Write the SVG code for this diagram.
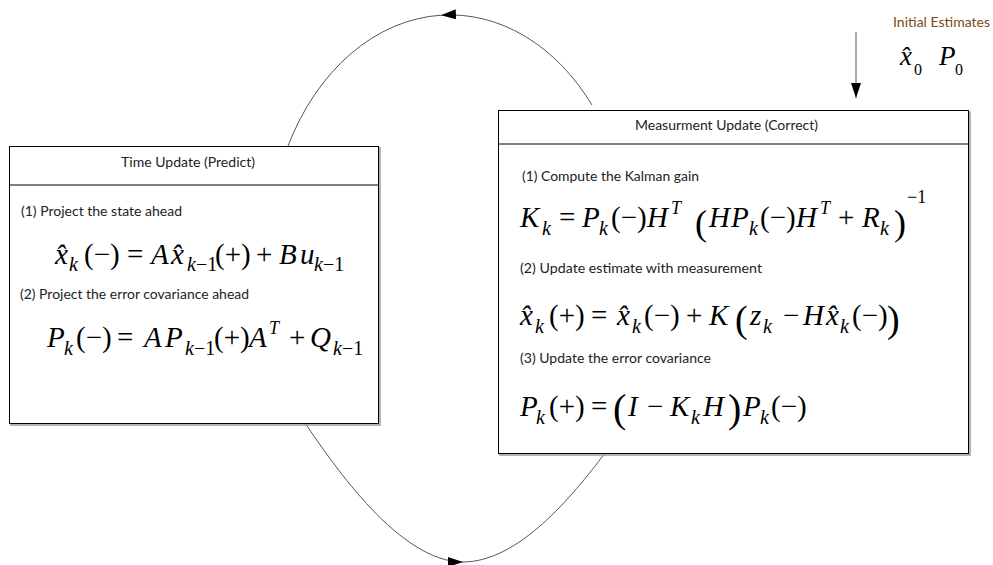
<svg xmlns="http://www.w3.org/2000/svg" width="993" height="565" viewBox="0 0 993 565">
<style>
  .box{fill:#fff;stroke:#000;stroke-width:1}
  .shadow{fill:none;stroke:#9a9a9a;stroke-width:1.5}
  .div{stroke:#000;stroke-width:1}
  .lbl{font-family:Lato,"Liberation Sans",sans-serif;font-size:13px;fill:#222}
  .init{font-family:Lato,"Liberation Sans",sans-serif;font-size:13px;fill:#7b4a12}
  .m{font-family:"Liberation Serif","Times New Roman",serif;font-style:italic;font-size:29px;fill:#000}
  .r{font-style:normal}
  .s{font-size:20px}
  .sup{font-size:18px}
  .conn{fill:none;stroke:#555;stroke-width:1}
</style>
<defs>
  <marker id="ah" markerUnits="userSpaceOnUse" markerWidth="16" markerHeight="10" refX="15" refY="5" orient="auto">
    <path d="M0,0 L15,5 L0,10 z" fill="#000"/>
  </marker>
</defs>

<g id="connectors">
  <path class="conn" d="M592,105 A181.6,239 0 0 0 441,15.2" marker-end="url(#ah)"/>
  <path class="conn" d="M441,15.2 A181.6,239 0 0 0 288,146"/>
  <path class="conn" d="M305,423 C335,467 400,562 463,562" marker-end="url(#ah)"/>
  <path class="conn" d="M463,562 C518,562 572,497 605,453"/>
  <line class="conn" x1="856" y1="32" x2="856" y2="98" stroke="#000" marker-end="url(#ah)"/>
</g>

<g id="initial-estimates">
  <text class="init" x="893" y="27" textLength="97" lengthAdjust="spacingAndGlyphs">Initial Estimates</text>
  <text class="m" style="font-size:27px"><tspan x="900" y="65">x̂</tspan><tspan class="r" style="font-size:16px" x="914" y="75">0</tspan><tspan x="939" y="65">P</tspan><tspan class="r" style="font-size:16px" x="955" y="75">0</tspan></text>
</g>

<g id="time-update">
  <rect class="shadow" x="11" y="148" width="369" height="277"/>
  <rect class="box" x="9.5" y="146.5" width="369" height="277"/>
  <line class="div" x1="9.5" y1="185" x2="378.5" y2="185"/>
  <text class="lbl" x="121" y="167" textLength="134" lengthAdjust="spacingAndGlyphs">Time Update (Predict)</text>
  <text class="lbl" x="21" y="216" textLength="161" lengthAdjust="spacingAndGlyphs">(1) Project the state ahead</text>
  <text class="m"><tspan x="55" y="264">x̂</tspan><tspan class="s" x="69" y="271">k</tspan><tspan class="r" x="84" y="264">(−)</tspan><tspan class="r" x="127" y="264">=</tspan><tspan x="151" y="264">A</tspan><tspan x="171" y="264">x̂</tspan><tspan class="s" x="187" y="271">k<tspan class="r">−1</tspan></tspan><tspan class="r" x="215" y="264">(+)</tspan><tspan class="r" x="256" y="264">+</tspan><tspan x="279" y="264">B</tspan><tspan x="300" y="264">u</tspan><tspan class="s" x="314" y="271">k<tspan class="r">−1</tspan></tspan></text>
  <text class="lbl" x="20" y="299" textLength="229" lengthAdjust="spacingAndGlyphs">(2) Project the error covariance ahead</text>
  <text class="m"><tspan x="47" y="347">P</tspan><tspan class="s" x="64" y="355">k</tspan><tspan class="r" x="76" y="347">(−)</tspan><tspan class="r" x="117" y="347">=</tspan><tspan x="144" y="347">A</tspan><tspan x="165" y="347">P</tspan><tspan class="s" x="185" y="355">k<tspan class="r">−1</tspan></tspan><tspan class="r" x="214" y="347">(+)</tspan><tspan x="249" y="347">A</tspan><tspan class="sup" x="269" y="334">T</tspan><tspan class="r" x="289" y="347">+</tspan><tspan x="310" y="347">Q</tspan><tspan class="s" x="333" y="355">k<tspan class="r">−1</tspan></tspan></text>
</g>

<g id="measurement-update">
  <rect class="shadow" x="500" y="112" width="470" height="343"/>
  <rect class="box" x="498.5" y="110.5" width="470" height="343"/>
  <line class="div" x1="498.5" y1="144" x2="968.5" y2="144"/>
  <text class="lbl" x="635" y="130" textLength="183" lengthAdjust="spacingAndGlyphs">Measurment Update (Correct)</text>
  <text class="lbl" x="522" y="181" textLength="177" lengthAdjust="spacingAndGlyphs">(1) Compute the Kalman gain</text>
  <text class="m"><tspan x="520" y="227">K</tspan><tspan class="s" x="542" y="235">k</tspan><tspan class="r" x="559" y="227">=</tspan><tspan x="582" y="227">P</tspan><tspan class="s" x="599" y="235">k</tspan><tspan class="r" x="611" y="227">(−)</tspan><tspan x="647" y="227">H</tspan><tspan class="sup" x="671" y="214">T</tspan><tspan class="r" style="font-size:36px" x="695" y="235">(</tspan><tspan x="709" y="227">H</tspan><tspan x="731" y="227">P</tspan><tspan class="s" x="749" y="235">k</tspan><tspan class="r" x="760" y="227">(−)</tspan><tspan x="796" y="227">H</tspan><tspan class="sup" x="820" y="214">T</tspan><tspan class="r" x="838" y="227">+</tspan><tspan x="862" y="227">R</tspan><tspan class="s" x="880" y="235">k</tspan><tspan class="r" style="font-size:36px" x="894" y="235">)</tspan><tspan class="r" style="font-size:18px" x="907" y="203">−1</tspan></text>
  <text class="lbl" x="520" y="273" textLength="242" lengthAdjust="spacingAndGlyphs">(2) Update estimate with measurement</text>
  <text class="m"><tspan x="520" y="325">x̂</tspan><tspan class="s" x="535" y="333">k</tspan><tspan class="r" x="549" y="325">(+)</tspan><tspan class="r" x="591" y="325">=</tspan><tspan x="617" y="325">x̂</tspan><tspan class="s" x="632" y="333">k</tspan><tspan class="r" x="644" y="325">(−)</tspan><tspan class="r" x="686" y="325">+</tspan><tspan x="709" y="325">K</tspan><tspan class="r" style="font-size:38px" x="735" y="332">(</tspan><tspan x="750" y="325">z</tspan><tspan class="s" x="763" y="333">k</tspan><tspan class="r" x="783" y="325">−</tspan><tspan x="803" y="325">H</tspan><tspan x="826" y="325">x̂</tspan><tspan class="s" x="840" y="333">k</tspan><tspan class="r" x="852" y="325">(−)</tspan><tspan class="r" style="font-size:38px" x="887" y="332">)</tspan></text>
  <text class="lbl" x="520" y="363" textLength="191" lengthAdjust="spacingAndGlyphs">(3) Update the error covariance</text>
  <text class="m"><tspan x="520" y="416">P</tspan><tspan class="s" x="536" y="424">k</tspan><tspan class="r" x="549" y="416">(+)</tspan><tspan class="r" x="591" y="416">=</tspan><tspan class="r" style="font-size:40px" x="613" y="422">(</tspan><tspan x="628" y="416">I</tspan><tspan class="r" x="647" y="416">−</tspan><tspan x="670" y="416">K</tspan><tspan class="s" x="691" y="424">k</tspan><tspan x="703" y="416">H</tspan><tspan class="r" style="font-size:40px" x="728" y="422">)</tspan><tspan x="743" y="416">P</tspan><tspan class="s" x="760" y="424">k</tspan><tspan class="r" x="771" y="416">(−)</tspan></text>
</g>
</svg>
